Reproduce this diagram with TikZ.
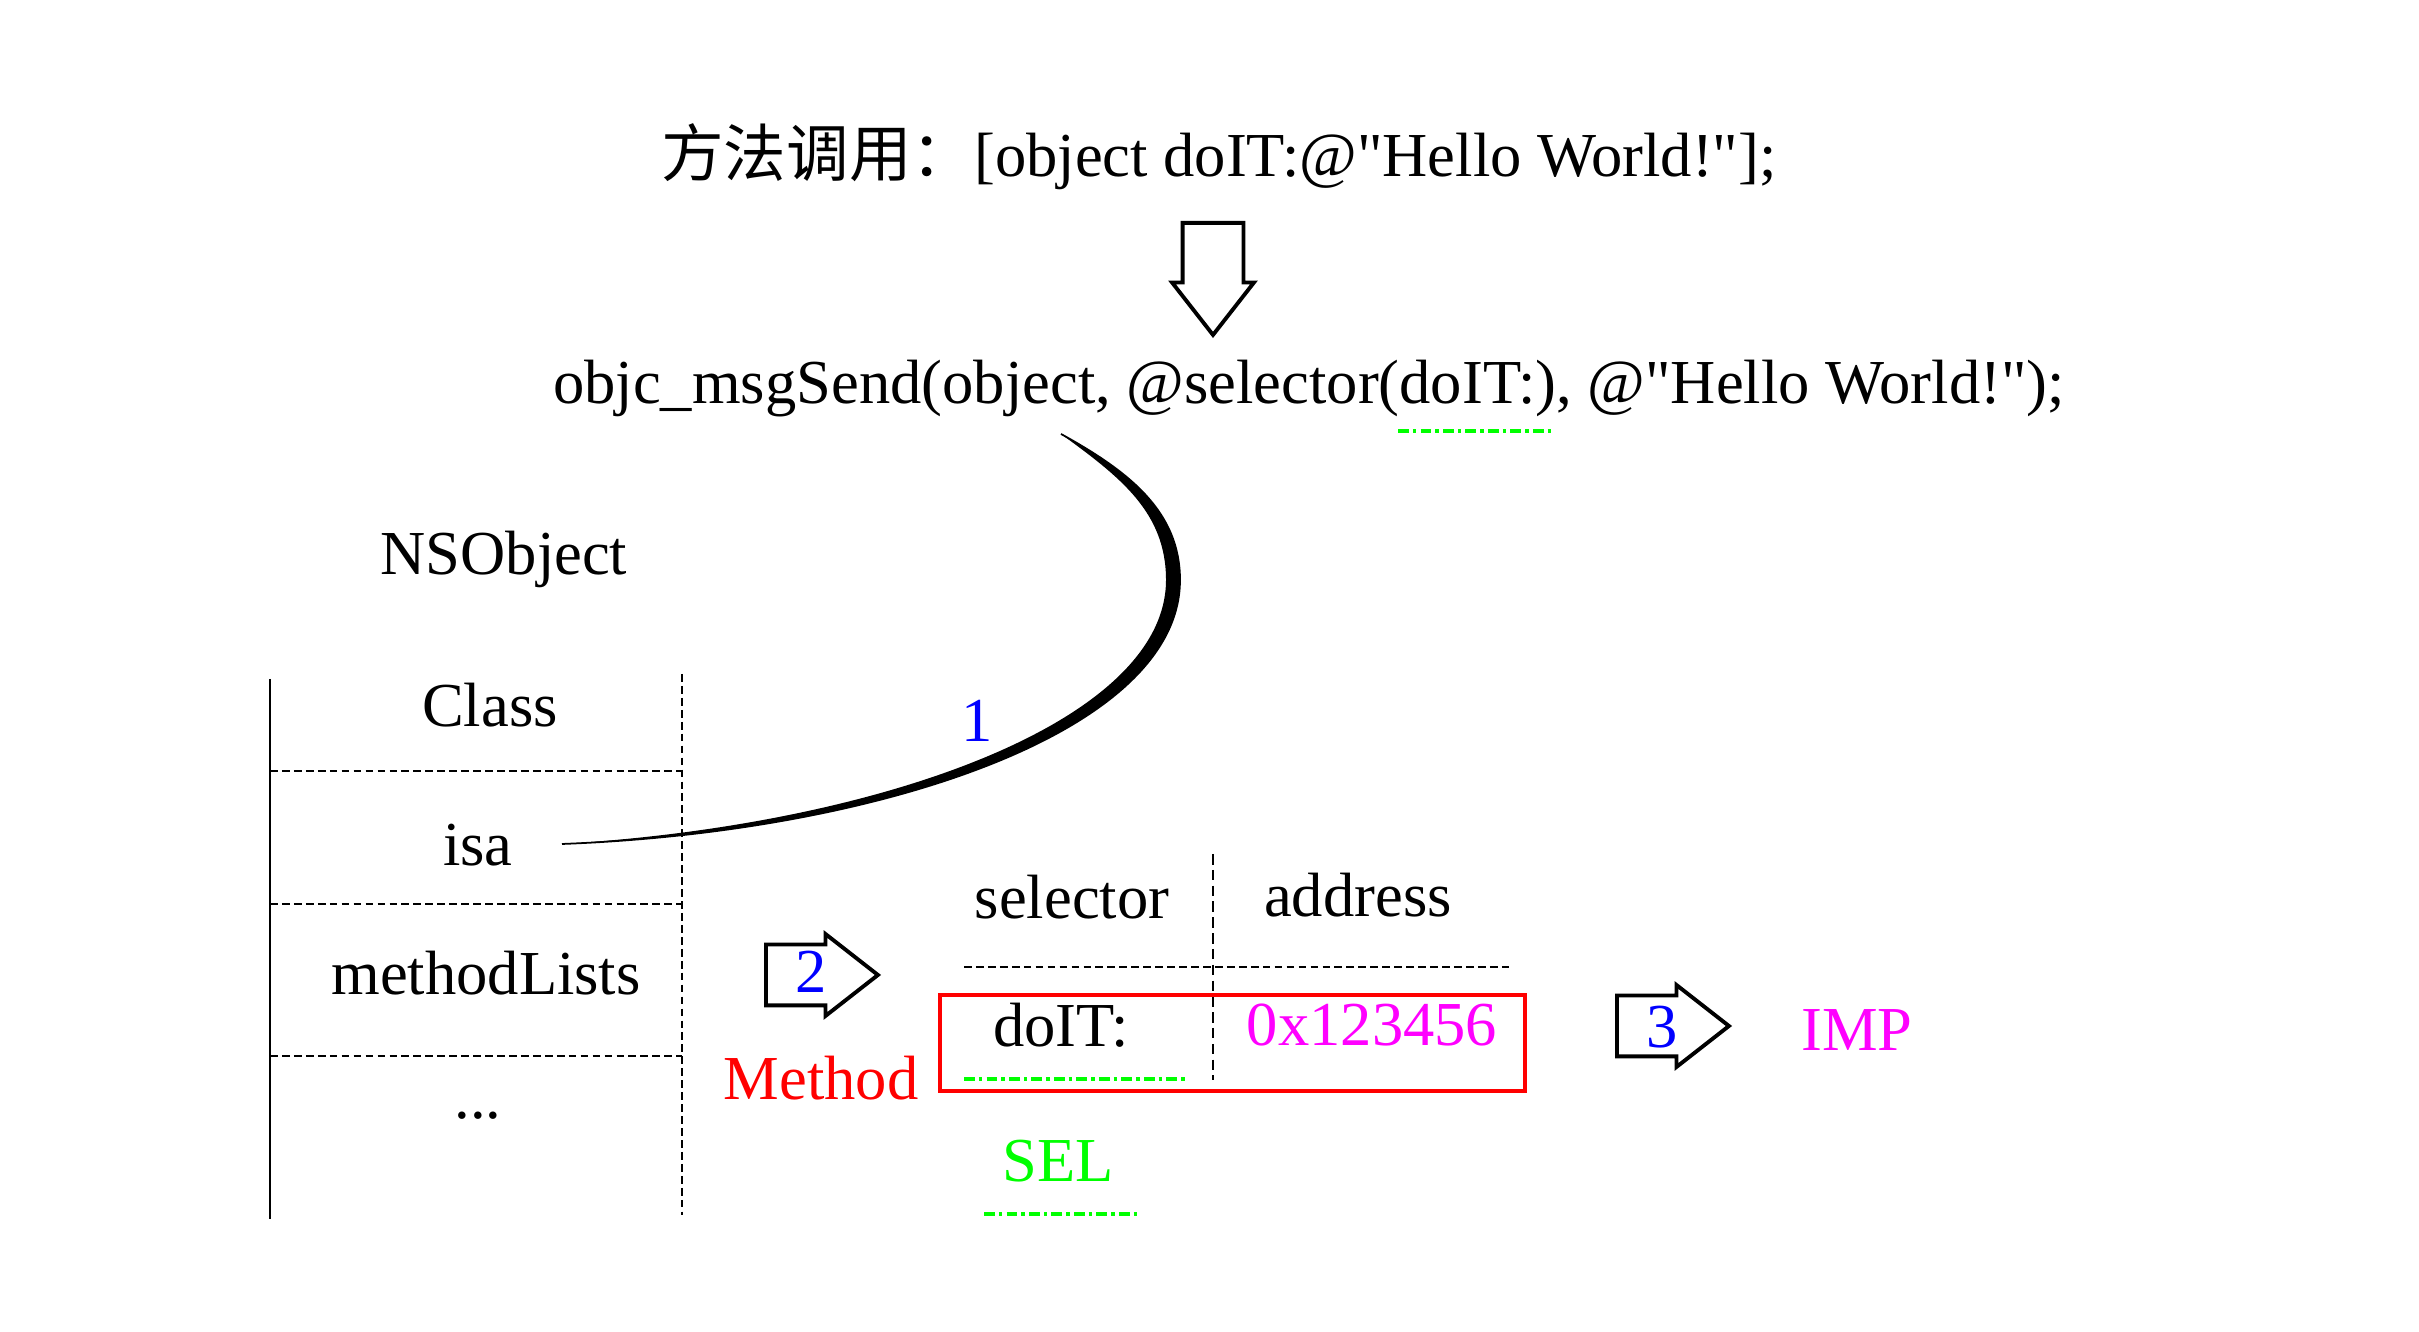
\documentclass[tikz,border=0pt]{standalone}
\usepackage{fontspec}
\setmainfont{Liberation Serif}
\newfontfamily\cjk{Noto Sans CJK SC}
\usetikzlibrary{shapes.arrows}
\definecolor{pgreen}{RGB}{0,255,0}
\definecolor{pmagenta}{RGB}{255,0,255}

\begin{document}
\begin{tikzpicture}[every node/.style={font=\fontsize{17.8}{21}\selectfont, inner sep=0pt}, lbl/.style={anchor=base}, fatarrow/.style={draw, line width=1.1pt, shape=single arrow, single arrow head extend=0.105cm, single arrow tip angle=76, inner xsep=0pt, inner ysep=0.285cm, minimum height=1.12cm, anchor=tail}, grid/.style={dash pattern=on 2.2pt off 1.2pt, line width=0.6pt}, underl/.style={pgreen, line width=1pt, dash pattern=on 3pt off 1.2pt on 1pt off 1.2pt}]
\useasboundingbox (0,0) rectangle (24.19,13.32);
% the call and what it becomes
\node[lbl] (call) at (12.19,11.55) {{\cjk 方法调用：}[object doIT:@\textquotedbl Hello World!\textquotedbl];};
\node[fatarrow, rotate=-90] (down) at (12.13,11.11) {};
\node[lbl] (send) at (13.09,9.28) {objc\_msgSend(object, @selector(doIT:), @\textquotedbl Hello World!\textquotedbl);};
\draw[underl] (13.98,9.01) -- (15.51,9.01);
% the object
\node[lbl] (nsobj) at (5.04,7.57) {NSObject};
\draw[line width=0.8pt] (2.70,6.53) -- (2.70,1.13);
\draw[grid] (6.82,6.58) -- (6.82,1.17);
\draw[grid] (2.70,5.61) -- (6.82,5.61);
\draw[grid] (2.70,4.28) -- (6.82,4.28);
\draw[grid] (2.70,2.76) -- (6.82,2.76);
\node[lbl] (cls) at (4.90,6.05) {Class};
\node[lbl] (isa) at (4.78,4.66) {isa};
\node[lbl] (mlists) at (4.86,3.37) {methodLists};
\node[lbl] (more) at (4.78,2.13) {...};
% step 1
\coordinate (isaend) at (5.62,4.88);
\coordinate (selfrom) at (10.61,8.98);
\fill (isaend) .. controls (8.8,5.0) and (11.8,6.0) .. (11.8,7.52) .. controls (11.8,8.2) and (11.3,8.6) .. (selfrom) .. controls (11.2,8.55) and (11.66,8.2) .. (11.66,7.52) .. controls (11.66,6.1) and (8.8,5.07) .. (isaend) -- cycle;
\draw[line width=0.5pt] (isaend) .. controls (8.8,5.0) and (11.8,6.0) .. (11.8,7.52) .. controls (11.8,8.2) and (11.3,8.6) .. (selfrom);
\node[lbl, blue] (one) at (9.77,5.90) {1};
% step 2: the method list
\node[fatarrow] (arr2) at (7.64,3.57) {};
\node[lbl, blue] (two) at (8.11,3.39) {2};
\node[lbl, red] (meth) at (8.21,2.32) {Method};
\node[lbl] (selhd) at (10.72,4.13) {selector};
\node[lbl] (addrhd) at (13.58,4.15) {address};
\draw[grid] (9.64,3.65) -- (15.13,3.65);
\draw[dash pattern=on 3pt off 1.5pt, line width=0.5pt] (12.13,4.78) -- (12.13,2.52);
\node[draw=red, line width=1.1pt, minimum width=5.85cm, minimum height=0.96cm] (entry) at (12.325,2.89) {};
\node[lbl] (doit) at (10.61,2.85) {doIT:};
\draw[underl] (9.64,2.53) -- (11.87,2.53);
\node[lbl, pmagenta] (addr) at (13.72,2.86) {0x123456};
\node[lbl, pgreen] (sel) at (10.58,1.50) {SEL};
\draw[underl] (9.84,1.18) -- (11.37,1.18);
% step 3
\node[fatarrow] (arr3) at (16.15,3.06) {};
\node[lbl, blue] (three) at (16.62,2.84) {3};
\node[lbl, pmagenta] (imp) at (18.57,2.81) {IMP};
\end{tikzpicture}
\end{document}
